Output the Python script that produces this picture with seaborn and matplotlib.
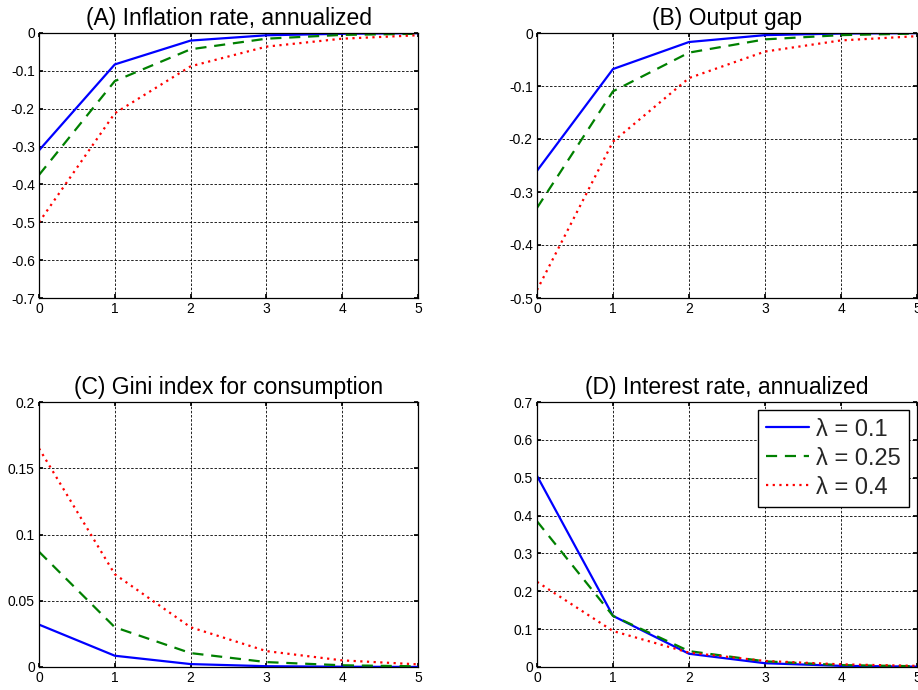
import numpy as np
import pandas as pd
import matplotlib
matplotlib.use("Agg")
import matplotlib.pyplot as plt
import matplotlib.ticker as mticker
import seaborn as sns

sns.set_theme(style="white")
plt.rcParams['font.family'] = ['Liberation Sans', 'DejaVu Sans']
plt.rcParams['axes.unicode_minus'] = False

quarters = [0, 1, 2, 3, 4, 5]
lambdas = ["λ = 0.1", "λ = 0.25", "λ = 0.4"]

inflation_01 = [-0.310, -0.083, -0.020, -0.006, -0.002, -0.0005]
inflation_025 = [-0.375, -0.127, -0.043, -0.015, -0.005, -0.002]
inflation_04 = [-0.500, -0.212, -0.088, -0.036, -0.015, -0.006]

gap_01 = [-0.260, -0.068, -0.017, -0.004, -0.001, -0.0003]
gap_025 = [-0.330, -0.110, -0.037, -0.012, -0.004, -0.001]
gap_04 = [-0.485, -0.205, -0.085, -0.035, -0.014, -0.006]

gini_01 = [0.032, 0.0085, 0.0022, 0.0006, 0.0002, 0.00005]
gini_025 = [0.087, 0.030, 0.0105, 0.0037, 0.0013, 0.0005]
gini_04 = [0.165, 0.070, 0.030, 0.012, 0.005, 0.002]

rate_01 = [0.505, 0.135, 0.035, 0.010, 0.003, 0.001]
rate_025 = [0.385, 0.135, 0.042, 0.015, 0.005, 0.002]
rate_04 = [0.225, 0.095, 0.038, 0.016, 0.007, 0.003]

panels = [
    ("(A) Inflation rate, annualized", [inflation_01, inflation_025, inflation_04], (-0.7, 0), np.arange(-0.7, 0.001, 0.1)),
    ("(B) Output gap", [gap_01, gap_025, gap_04], (-0.5, 0), np.arange(-0.5, 0.001, 0.1)),
    ("(C) Gini index for consumption", [gini_01, gini_025, gini_04], (0, 0.2), np.arange(0, 0.2001, 0.05)),
    ("(D) Interest rate, annualized", [rate_01, rate_025, rate_04], (0, 0.7), np.arange(0, 0.7001, 0.1)),
]

colors = ["#0000ff", "#008000", "#ff0000"]
styles = ["-", (0, (5, 3.5)), (0, (1, 2))]


def fmt(v, p):
    if abs(v) < 1e-9:
        return "0"
    return "%g" % round(v, 4)


fig = plt.figure(figsize=(9.18, 6.9), dpi=100)
W, H = 918, 690
boxes = [(39, 33, 418, 298), (537, 33, 917, 298), (39, 402, 418, 667), (537, 402, 917, 667)]

for (title, series, ylim, yticks), (x0, y0, x1, y1) in zip(panels, boxes):
    ax = fig.add_axes([x0 / W, 1 - y1 / H, (x1 - x0) / W, (y1 - y0) / H])
    for vals, lab, c, ls in zip(series, lambdas, colors, styles):
        sns.lineplot(x=quarters, y=vals, ax=ax, color=c, linestyle=ls, linewidth=1.6, label=lab)
    ax.set_xlim(0, 5)
    ax.set_ylim(*ylim)
    ax.set_xticks(quarters)
    ax.set_yticks(yticks)
    ax.yaxis.set_major_formatter(mticker.FuncFormatter(fmt))
    ax.grid(True, color="black", linestyle=(0, (3, 2)), linewidth=0.6)
    ax.set_axisbelow(True)
    for s in ax.spines.values():
        s.set_color("black")
        s.set_linewidth(0.9)
    ax.tick_params(axis="both", which="major", direction="in", length=3, labelsize=10,
                   colors="black", top=True, right=True, bottom=True, left=True, pad=3)
    ax.set_title(title, fontsize=16.5, color="black", pad=6)
    ax.set_xlabel("")
    ax.set_ylabel("")
    if title.startswith("(D)"):
        leg = ax.legend(loc="upper right", fontsize=17, frameon=True, fancybox=False,
                        edgecolor="black", handlelength=1.8, borderpad=0.35,
                        labelspacing=0.3, handletextpad=0.3, borderaxespad=0.35)
        leg.get_frame().set_linewidth(1.0)
        leg.get_frame().set_alpha(1)
    else:
        ax.get_legend().remove()

fig.savefig("out.png", dpi=100, facecolor="white")
